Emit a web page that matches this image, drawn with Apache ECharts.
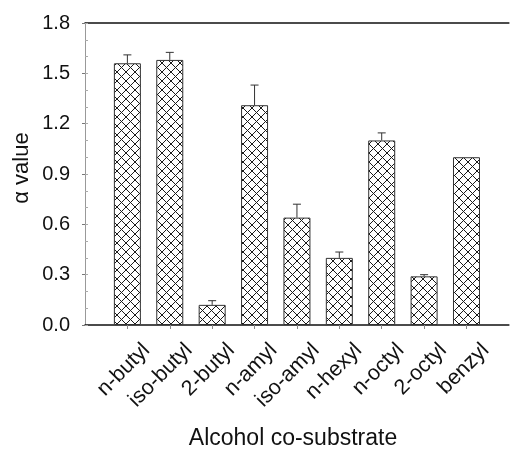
<!DOCTYPE html>
<html>
<head>
<meta charset="utf-8">
<script src="https://cdn.jsdelivr.net/npm/echarts@6/dist/echarts.min.js"></script>
<style>
  html, body { margin: 0; padding: 0; background: #fff; }
  #chart { width: 511px; height: 449px; }
</style>
</head>
<body>
<div id="chart"></div>
<script>
// Alcohol co-substrates and their alpha values (mean, upper error)
const categories = ['n-butyl', 'iso-butyl', '2-butyl', 'n-amyl', 'iso-amyl', 'n-hexyl', 'n-octyl', '2-octyl', 'benzyl'];
const alphaValues = [1.56, 1.58, 0.12, 1.31, 0.64, 0.40, 1.10, 0.29, 1.00];
const alphaErrors = [0.05, 0.045, 0.025, 0.12, 0.08, 0.035, 0.045, 0.01, 0];

const FONT = '"Liberation Sans", Arial, sans-serif';

// cross-hatch fill tile
function hatchTile() {
  const s = 9;
  const c = document.createElement('canvas');
  c.width = s; c.height = s;
  const g = c.getContext('2d');
  g.fillStyle = '#fff';
  g.fillRect(0, 0, s, s);
  g.strokeStyle = '#1a1a1a';
  g.lineWidth = 1;
  g.beginPath();
  g.moveTo(0, 0); g.lineTo(s, s);
  g.moveTo(s, 0); g.lineTo(0, s);
  g.stroke();
  return c;
}

// padded axis: an empty slot at each end so bars sit on whole-slot positions
const axisData = [''].concat(categories, ['']);
const barData = [null].concat(alphaValues, [null]);
const errData = categories.map((c, i) => [i + 1, alphaValues[i], alphaErrors[i]]);

const chart = echarts.init(document.getElementById('chart'), null, { renderer: 'canvas' });
chart.setOption({
  animation: false,
  grid: { left: 85, right: -5, top: 23, bottom: 124, containLabel: false },
  xAxis: [{
    type: 'category',
    data: axisData,
    boundaryGap: false,
    axisLine: { lineStyle: { color: '#111', width: 1.5 } },
    axisTick: {
      show: true, length: 4, lineStyle: { color: '#888' },
      interval: (idx) => idx > 0 && idx < axisData.length - 1
    },
    axisLabel: {
      interval: 0, rotate: 45, margin: 41,
      padding: [0, -27, 0, 0],
      fontFamily: FONT, fontSize: 21.5, color: '#111'
    },
    splitLine: { show: false }
  }, {
    type: 'category',
    data: axisData,
    boundaryGap: false,
    position: 'top',
    axisLine: { onZero: false, lineStyle: { color: '#111', width: 1.5 } },
    axisTick: { show: false },
    axisLabel: { show: false }
  }],
  yAxis: [{
    type: 'value',
    min: 0, max: 1.8, interval: 0.3,
    axisLine: { show: true, lineStyle: { color: '#999' } },
    axisTick: { show: true, length: 3, lineStyle: { color: '#777' } },
    axisLabel: {
      margin: 15, fontFamily: FONT, fontSize: 20, color: '#111',
      formatter: (v) => v.toFixed(1)
    },
    splitLine: { show: false }
  }, {
    type: 'value',
    min: 0, max: 1.8, interval: 0.1,
    position: 'left',
    axisLine: { show: false },
    axisTick: { show: true, inside: true, length: 3, lineStyle: { color: '#aaa' } },
    axisLabel: { show: false },
    splitLine: { show: false }
  }],
  series: [{
    type: 'bar',
    data: barData,
    barWidth: 27,
    itemStyle: {
      color: { image: hatchTile(), repeat: 'repeat' },
      borderColor: '#333',
      borderWidth: 1
    },
    z: 2
  }, {
    type: 'custom',
    data: errData,
    z: 3,
    renderItem: (params, api) => {
      const x = api.value(0);
      if (api.value(2) <= 0) return null;
      const base = api.coord([x, api.value(1)]);
      const top = api.coord([x, api.value(1) + api.value(2)]);
      const cap = 4;
      return {
        type: 'group',
        children: [
          { type: 'line', shape: { x1: base[0], y1: base[1], x2: top[0], y2: top[1] },
            style: { stroke: '#333', lineWidth: 1 } },
          { type: 'line', shape: { x1: top[0] - cap, y1: top[1], x2: top[0] + cap, y2: top[1] },
            style: { stroke: '#333', lineWidth: 1 } }
        ]
      };
    }
  }],
  graphic: [{
    type: 'text',
    x: 293, y: 439,
    style: {
      text: 'Alcohol co-substrate',
      fontFamily: FONT, fontSize: 23, fill: '#111',
      align: 'center', verticalAlign: 'middle'
    }
  }, {
    type: 'text',
    rotation: Math.PI / 2,
    x: 22, y: 168,
    style: {
      text: 'α value',
      fontFamily: FONT, fontSize: 22, fill: '#111',
      align: 'center', verticalAlign: 'middle'
    }
  }]
});
</script>
</body>
</html>
